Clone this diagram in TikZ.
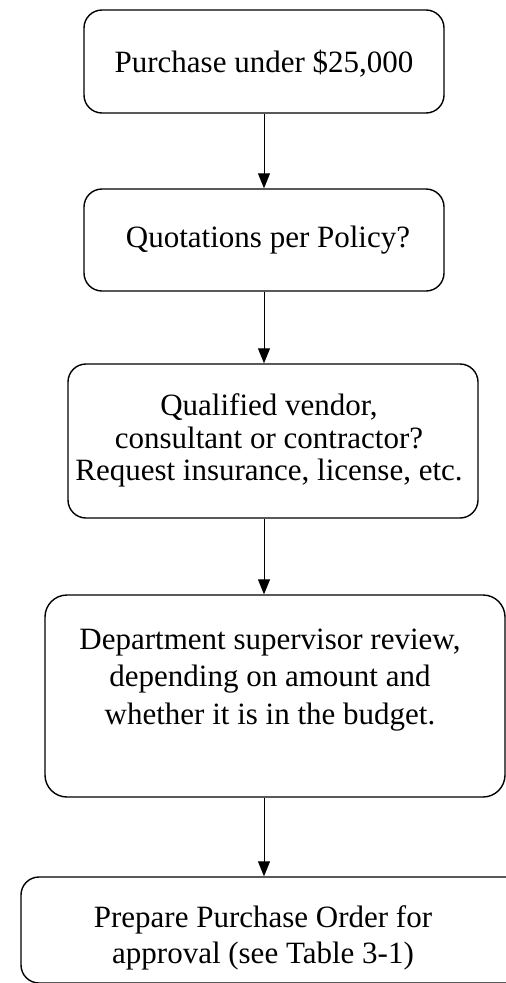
\documentclass[tikz,border=0pt]{standalone}
\usepackage{fontspec}
\setmainfont{Liberation Serif}
\usetikzlibrary{arrows.meta}
\begin{document}
\begin{tikzpicture}[x=1pt,y=-1pt,
  box/.style={draw, line width=1.4pt, rounded corners=18pt, inner sep=0pt},
  txt/.style={font=\fontsize{31}{36}\selectfont, align=center, inner sep=0pt},
  flow/.style={line width=1pt, -{Triangle[width=12pt,length=15pt]}}]
\useasboundingbox[clip] (0,0) rectangle (506,983);
% boxes
\node[box, minimum width=360pt, minimum height=103pt] (b1) at (264,61.5) {};
\node[box, minimum width=360pt, minimum height=102pt] (b2) at (264,240) {};
\node[box, minimum width=410pt, minimum height=154pt] (b3) at (273,441) {};
\node[box, minimum width=460pt, minimum height=202pt, rounded corners=22pt] (b4) at (275,696) {};
\node[box, minimum width=539pt, minimum height=106pt] (b5) at (290.5,930) {};
% texts
\node[txt, anchor=base] (t1) at (264,72) {Purchase under \$25,000};
\node[txt, anchor=base] (t2) at (268,247) {Quotations per Policy?};
\node[txt, font=\fontsize{31}{32.5}\selectfont] (t3) at (269,440.5) {Qualified vendor,\\consultant or contractor?\\Request insurance, license, etc.};
\node[txt, font=\fontsize{31}{37.5}\selectfont] (t4) at (270,680) {Department supervisor review,\\depending on amount and\\whether it is in the budget.};
\node[txt, font=\fontsize{31}{36}\selectfont] (t5) at (263,938) {Prepare Purchase Order for\\approval (see Table 3-1)};
% connectors
\draw[flow] (b1.south) -- (b2.north);
\draw[flow] (b2.south) -- (b3.north -| b2.south);
\draw[flow] (b3.south -| b1.south) -- (b4.north -| b1.south);
\draw[flow] (b4.south -| b1.south) -- (b5.north -| b1.south);
\end{tikzpicture}
\end{document}
